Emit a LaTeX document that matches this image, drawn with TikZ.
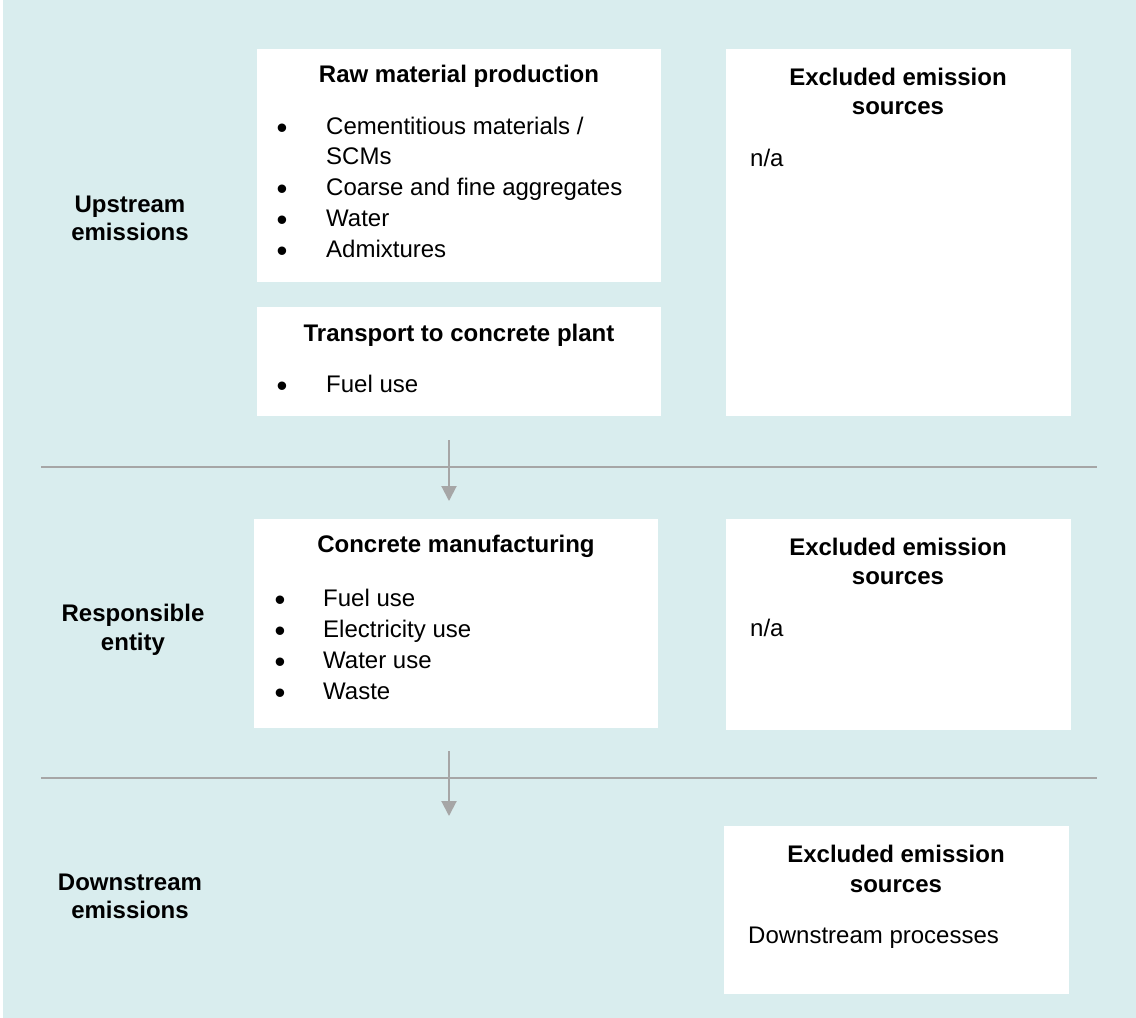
\documentclass[tikz,border=0pt]{standalone}
\usepackage{fontspec}
\setmainfont{Liberation Sans}
\usetikzlibrary{arrows.meta}
\definecolor{bgteal}{RGB}{217,237,238}
\definecolor{rulegray}{RGB}{166,166,166}
\begin{document}
\begin{tikzpicture}[x=1pt,y=-1pt,
  panel/.style={fill=white, draw=none, inner sep=0pt, anchor=north west},
  txt/.style={inner sep=0pt, font=\fontsize{24}{29}\selectfont},
  ttl/.style={inner sep=0pt, font=\fontsize{24}{29}\selectfont\bfseries, anchor=base},
  item/.style={txt, anchor=base west},
  bul/.style={inner sep=0pt, font=\fontsize{31}{32}\selectfont, anchor=base, yshift=-4pt},
  sep/.style={draw=rulegray, line width=2pt},
  flow/.style={draw=rulegray, line width=2pt, -{Triangle[length=15pt,width=15pt]}}
]
\useasboundingbox (0,0) rectangle (1136,1018);
\fill[white] (0,0) rectangle (3,1018);
\fill[bgteal] (3,0) rectangle (1136,1018);

% panels
\node[panel, minimum width=404pt, minimum height=233pt] (raw) at (257,49) {};
\node[panel, minimum width=404pt, minimum height=109pt] (trans) at (257,307) {};
\node[panel, minimum width=345pt, minimum height=367pt] (exc1) at (726,49) {};
\node[panel, minimum width=404pt, minimum height=209pt] (conc) at (254,519) {};
\node[panel, minimum width=345pt, minimum height=211pt] (exc2) at (726,519) {};
\node[panel, minimum width=345pt, minimum height=168pt] (exc3) at (724,826) {};

% row labels
\node[ttl] (up1) at (130,212) {Upstream};
\node[ttl] (up2) at (130,240) {emissions};
\node[ttl] (re1) at (133,621) {Responsible};
\node[ttl] (re2) at (133,650) {entity};
\node[ttl] (dn1) at (130,890) {Downstream};
\node[ttl] (dn2) at (130,918) {emissions};

% raw material production
\node[ttl] (rawT) at (459,82) {Raw material production};
\node[bul] (rb1) at (282,134) {•};
\node[item] (ri1) at (326,134) {Cementitious materials /};
\node[item] (ri1b) at (326,164) {SCMs};
\node[bul] (rb2) at (282,195) {•};
\node[item] (ri2) at (326,195) {Coarse and fine aggregates};
\node[bul] (rb3) at (282,226) {•};
\node[item] (ri3) at (326,226) {Water};
\node[bul] (rb4) at (282,257) {•};
\node[item] (ri4) at (326,257) {Admixtures};

% transport
\node[ttl] (trT) at (459,341) {Transport to concrete plant};
\node[bul] (tb1) at (282,392) {•};
\node[item] (ti1) at (326,392) {Fuel use};

% excluded 1
\node[ttl] (e1a) at (898,85) {Excluded emission};
\node[ttl] (e1b) at (898,114) {sources};
\node[item] (e1t) at (750,166) {n/a};

% concrete manufacturing
\node[ttl] (coT) at (456,552) {Concrete manufacturing};
\node[bul] (cb1) at (280,606) {•};
\node[item] (ci1) at (323,606) {Fuel use};
\node[bul] (cb2) at (280,637) {•};
\node[item] (ci2) at (323,637) {Electricity use};
\node[bul] (cb3) at (280,668) {•};
\node[item] (ci3) at (323,668) {Water use};
\node[bul] (cb4) at (280,699) {•};
\node[item] (ci4) at (323,699) {Waste};

% excluded 2
\node[ttl] (e2a) at (898,555) {Excluded emission};
\node[ttl] (e2b) at (898,584) {sources};
\node[item] (e2t) at (750,636) {n/a};

% excluded 3
\node[ttl] (e3a) at (896,862) {Excluded emission};
\node[ttl] (e3b) at (896,892) {sources};
\node[item] (e3t) at (748,943) {Downstream processes};

% separators
\coordinate (s1l) at (41,467);
\coordinate (s1r) at (1097,467);
\coordinate (s2l) at (41,778);
\coordinate (s2r) at (1097,778);
\draw[sep] (s1l) -- (s1r);
\draw[sep] (s2l) -- (s2r);

% flow arrows
\coordinate (a1s) at (449,440);
\coordinate (a1e) at (449,501);
\coordinate (a2s) at (449,751);
\coordinate (a2e) at (449,816);
\draw[flow] (a1s) -- (a1e);
\draw[flow] (a2s) -- (a2e);
\end{tikzpicture}
\end{document}
